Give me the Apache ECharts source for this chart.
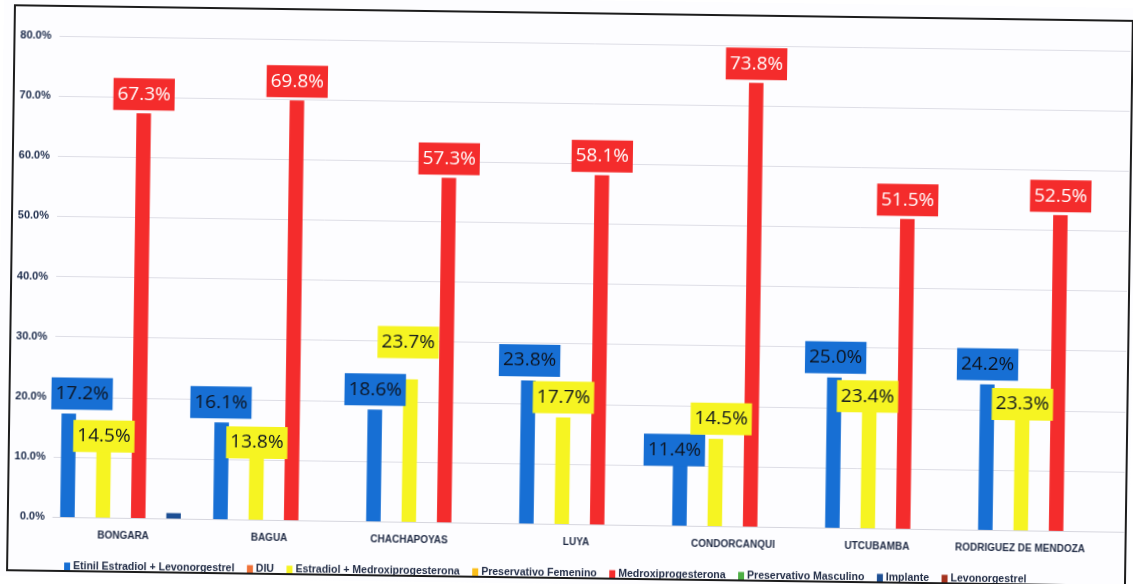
<!DOCTYPE html>
<html>
<head>
<meta charset="utf-8">
<script src="https://cdn.jsdelivr.net/npm/echarts@6/dist/echarts.min.js"></script>
<style>
  html, body { margin: 0; padding: 0; background: #ffffff; overflow: hidden; }
  #chart { width: 1133px; height: 584px; transform: rotate(0.8deg); transform-origin: 50% 50%; }
</style>
</head>
<body>
<div id="chart"></div>
<script>
// Provincias
const provincias = ['BONGARA', 'BAGUA', 'CHACHAPOYAS', 'LUYA', 'CONDORCANQUI', 'UTCUBAMBA', 'RODRIGUEZ DE MENDOZA'];

// Porcentaje por método anticonceptivo (null = sin registro)
const etinilEstradiolLevo = [17.2, 16.1, 18.6, 23.8, 11.4, 25.0, 24.2];
const diu = [null, null, null, null, null, null, null];
const estradiolMedroxi = [14.5, 13.8, 23.7, 17.7, 14.5, 23.4, 23.3];
const preservativoFemenino = [null, null, null, null, null, null, null];
const medroxiprogesterona = [67.3, 69.8, 57.3, 58.1, 73.8, 51.5, 52.5];
const preservativoMasculino = [null, null, null, null, null, null, null];
const implante = [0.9, null, null, null, null, null, null];
const levonorgestrel = [null, null, null, null, null, null, null];

// Eje Y
const yTicks = [0, 10, 20, 30, 40, 50, 60, 70, 80];

// Desplazamiento manual de algunas etiquetas [dx, dy] en píxeles
const etinilLabelShift = [[13, 0], [-1, 0], [0, 0], [1, 0], [-6, 13], [1, 0], [0, 0]];
const estradiolLabelShift = [[0, 26], [0, 26], [-3, -17], [0, 0], [5, 0], [-2, 29], [0, 34]];
// Corrimiento horizontal de los nombres de provincia (px, negativo = izquierda)
const provinciaShift = [-6, -13, -26, -12, -8, -17, -27];

const FONT_LABEL = "'Open Sans', sans-serif";
const FONT_AXIS = "'Liberation Sans', Arial, sans-serif";

function withShift(values, shifts) {
  return values.map((v, i) => ({ value: v, label: { offset: shifts[i] } }));
}

function boxLabel(bg, fg) {
  return {
    show: true,
    position: 'top',
    distance: 4,
    backgroundColor: bg,
    color: fg,
    padding: [4, 4, 4, 4],
    fontSize: 19,
    lineHeight: 24,
    fontFamily: FONT_LABEL,
    formatter: p => p.value.toFixed(1) + '%'
  };
}

const provRich = {};
provinciaShift.forEach((s, i) => {
  provRich['p' + i] = {
    fontSize: 10, fontWeight: 'bold', color: '#1f2a44', fontFamily: FONT_AXIS,
    padding: s < 0 ? [0, -2 * s, 0, 0] : [0, 0, 0, 2 * s]
  };
});

const chart = echarts.init(document.getElementById('chart'), null, { renderer: 'canvas' });

const base = { type: 'bar', barGap: '22%', barCategoryGap: '9.4%', barWidth: 14.5 };

chart.setOption({
  backgroundColor: '#fdfdff',
  animation: false,
  graphic: [{
    type: 'rect',
    shape: { x: 11, y: 13, width: 1118, height: 565 },
    style: { fill: null, stroke: '#1c1c1c', lineWidth: 2 },
    silent: true, z: 100
  }],
  grid: { left: 56, right: 6, top: 43, bottom: 60 },
  legend: {
    left: 63, top: 563,
    itemWidth: 6, itemHeight: 8, itemGap: 12.5,
    icon: 'rect',
    textStyle: { fontSize: 10.5, fontWeight: 'bold', color: '#1f2a44', fontFamily: FONT_AXIS, padding: [0, 0, 0, -2] }
  },
  xAxis: {
    type: 'category',
    data: provincias,
    axisTick: { show: false },
    axisLine: { lineStyle: { color: '#d6d6de' } },
    axisLabel: {
      margin: 13, interval: 0,
      formatter: (name, i) => '{p' + i + '|' + name + '}',
      rich: provRich
    }
  },
  yAxis: {
    type: 'value',
    min: yTicks[0], max: yTicks[yTicks.length - 1], interval: 10,
    axisLine: { show: false },
    axisTick: { show: false },
    splitLine: { lineStyle: { color: '#dedee6' } },
    axisLabel: { margin: 8, fontSize: 11, fontWeight: 'bold', color: '#1b2a4a', fontFamily: FONT_AXIS, formatter: v => v.toFixed(1) + '%' }
  },
  series: [
    Object.assign({}, base, { name: 'Etinil Estradiol + Levonorgestrel', data: withShift(etinilEstradiolLevo, etinilLabelShift),
      itemStyle: { color: '#176fd4' }, label: boxLabel('#176fd4', '#0d1420') }),
    Object.assign({}, base, { name: 'DIU', data: diu, itemStyle: { color: '#f07138' } }),
    Object.assign({}, base, { name: 'Estradiol + Medroxiprogesterona', data: withShift(estradiolMedroxi, estradiolLabelShift),
      itemStyle: { color: '#f6f422' }, label: boxLabel('#f6f422', '#0d1420') }),
    Object.assign({}, base, { name: 'Preservativo Femenino', data: preservativoFemenino, itemStyle: { color: '#fbbf1a' } }),
    Object.assign({}, base, { name: 'Medroxiprogesterona', data: medroxiprogesterona,
      itemStyle: { color: '#f42c2c' }, label: Object.assign(boxLabel('#f42c2c', '#ffffff'), { distance: 3 }) }),
    Object.assign({}, base, { name: 'Preservativo Masculino', data: preservativoMasculino, itemStyle: { color: '#4cae44' } }),
    Object.assign({}, base, { name: 'Implante', data: implante, itemStyle: { color: '#1d4f94' } }),
    Object.assign({}, base, { name: 'Levonorgestrel', data: levonorgestrel, itemStyle: { color: '#a4321e' } })
  ]
});
</script>
</body>
</html>
